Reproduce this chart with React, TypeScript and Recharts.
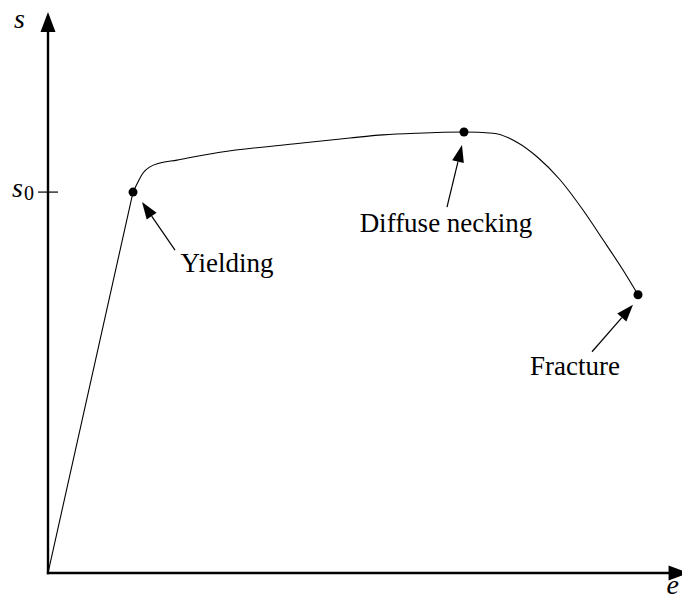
import { ComposedChart, Line, Scatter, XAxis, YAxis, ReferenceLine } from "recharts";

// Engineering strain e / stress s, arbitrary units (both axes 0..10)
const elasticStrain = [0, 1.354];
const elasticStress = [0, 6.79];

const plasticStrain = [
  1.354, 1.433, 1.513, 1.624, 1.783, 2.054, 2.373, 2.739, 4.013, 4.809, 5.334,
  5.876, 6.624, 7.086, 7.468, 7.787, 8.153, 8.519, 8.838, 9.156, 9.395,
];
const plasticStress = [
  6.79, 6.97, 7.13, 7.24, 7.31, 7.36, 7.43, 7.5, 7.66, 7.754, 7.81,
  7.84, 7.86, 7.84, 7.68, 7.42, 7.01, 6.47, 5.94, 5.4, 4.96,
];

const eventNames = ["Yielding", "Diffuse necking", "Fracture"];
const eventStrain = [1.354, 6.624, 9.395];
const eventStress = [6.79, 7.86, 4.96];

// yield stress, ticked on the s axis
const S0 = 6.79;

const toPoints = (e: number[], s: number[]) => e.map((v, i) => ({ e: v, s: s[i] }));
const elastic = toPoints(elasticStrain, elasticStress);
const plastic = toPoints(plasticStrain, plasticStress);
const events = eventNames.map((name, i) => ({ name, e: eventStrain[i], s: eventStress[i] }));

const FONT = '"Liberation Serif", "DejaVu Serif", serif';
const INK = "#000";

// callout offsets from each event point, in px: arrow tip, arrow tail, label (middle, baseline)
const callouts: Record<string, { tip: number[]; tail: number[]; text: number[] }> = {
  Yielding: { tip: [9, 10], tail: [42, 58], text: [94, 80] },
  "Diffuse necking": { tip: [-2, 13], tail: [-17, 75], text: [-18, 100] },
  Fracture: { tip: [-5, 10], tail: [-46, 57], text: [-63, 80] },
};

function arrow(
  x1: number, y1: number, x2: number, y2: number,
  head: number, width: number, sw: number, cap = "butt"
) {
  const len = Math.hypot(x2 - x1, y2 - y1);
  const ux = (x2 - x1) / len;
  const uy = (y2 - y1) / len;
  const bx = x2 - ux * head;
  const by = y2 - uy * head;
  const px = -uy * (width / 2);
  const py = ux * (width / 2);
  return (
    <g>
      <line x1={x1} y1={y1} x2={bx} y2={by} stroke={INK} strokeWidth={sw} strokeLinecap={cap as any} />
      <polygon points={`${x2},${y2} ${bx + px},${by + py} ${bx - px},${by - py}`} fill={INK} />
    </g>
  );
}

const axisShape = (label: string, dx: number, dy: number) => (p: any) => (
  <g>
    {arrow(p.x1, p.y1, p.x2, p.y2, 20, 15, 2.4, "square")}
    <text x={p.x2 + dx} y={p.y2 + dy} fontFamily={FONT} fontStyle="italic" fontSize={28} fill={INK}>
      {label}
    </text>
  </g>
);

const tickShape = (p: any) => (
  <g>
    <line x1={p.x1} y1={p.y1} x2={p.x2} y2={p.y2} stroke={INK} strokeWidth={1.2} />
    <text x={p.x1 - 26} y={p.y1 + 5} fontFamily={FONT} fontSize={28} fontStyle="italic" fill={INK}>
      s
    </text>
    <text x={p.x1 - 14} y={p.y1 + 8} fontFamily={FONT} fontSize={20} fill={INK}>
      0
    </text>
  </g>
);

const EventMark = (p: any) => {
  const { cx, cy, payload } = p;
  const c = callouts[payload.name];
  return (
    <g>
      <circle cx={cx} cy={cy} r={4.5} fill={INK} />
      {arrow(cx + c.tail[0], cy + c.tail[1], cx + c.tip[0], cy + c.tip[1], 17, 12, 1.2)}
      <text
        x={cx + c.text[0]}
        y={cy + c.text[1]}
        textAnchor="middle"
        fontFamily={FONT}
        fontSize={27}
        fill={INK}
      >
        {payload.name}
      </text>
    </g>
  );
};

export default function App() {
  return (
    <div style={{ position: "absolute", left: 0, top: 0, background: "#fff" }}>
      <ComposedChart width={682} height={601} margin={{ top: 12, right: 6, bottom: 28, left: 48 }}>
        <XAxis dataKey="e" type="number" domain={[0, 10]} hide allowDataOverflow />
        <YAxis dataKey="s" type="number" domain={[0, 10]} hide allowDataOverflow />
        <ReferenceLine
          segment={[{ x: 0, y: 0 }, { x: 10.2, y: 0 }]}
          ifOverflow="visible"
          shape={axisShape("e", -22, 21)}
        />
        <ReferenceLine
          segment={[{ x: 0, y: 0 }, { x: 0, y: 10 }]}
          ifOverflow="visible"
          shape={axisShape("s", -34, 16)}
        />
        <ReferenceLine
          segment={[{ x: -0.16, y: S0 }, { x: 0.16, y: S0 }]}
          ifOverflow="visible"
          shape={tickShape}
        />
        <Line
          data={elastic}
          dataKey="s"
          type="linear"
          stroke={INK}
          strokeWidth={1.1}
          dot={false}
          activeDot={false}
          isAnimationActive={false}
        />
        <Line
          data={plastic}
          dataKey="s"
          type="monotone"
          stroke={INK}
          strokeWidth={1.1}
          dot={false}
          activeDot={false}
          isAnimationActive={false}
        />
        <Scatter data={events} dataKey="s" shape={EventMark} isAnimationActive={false} />
      </ComposedChart>
    </div>
  );
}
